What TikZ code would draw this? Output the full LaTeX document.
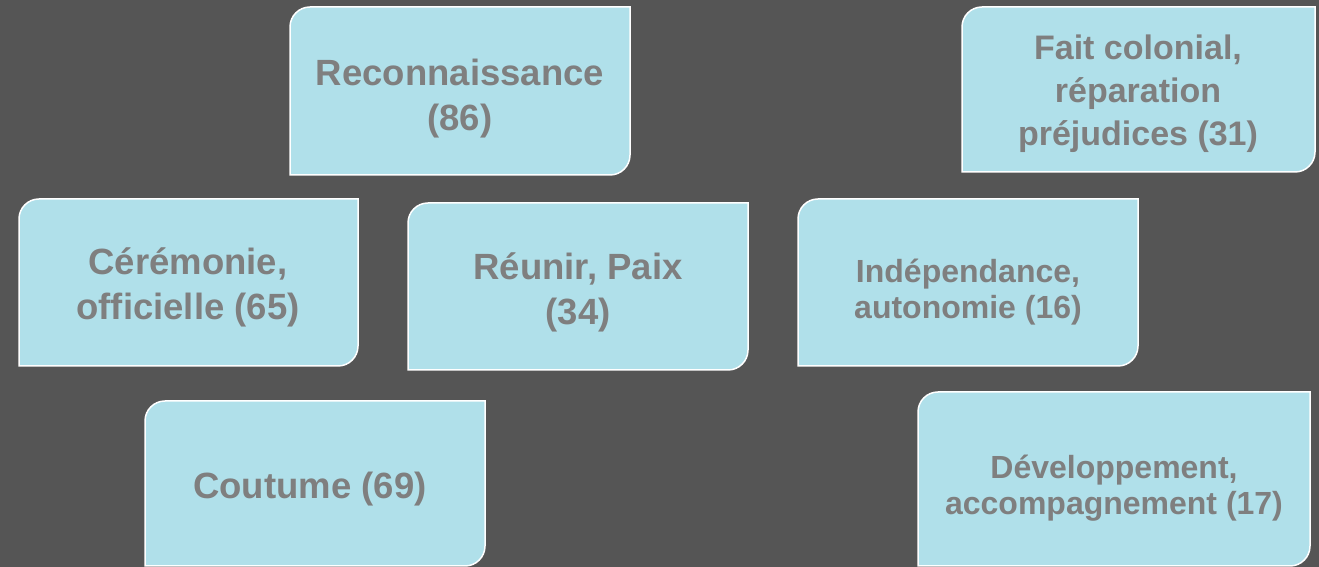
\documentclass[tikz,border=0pt]{standalone}
\usepackage{fontspec}
\setmainfont{Liberation Sans}
\usepackage{tikz}

\definecolor{bggray}{HTML}{555555}
\definecolor{boxblue}{HTML}{B0E0EA}
\definecolor{txtgray}{HTML}{7F7F7F}

% cadre arrondi en haut a gauche et en bas a droite : {gauche}{bas}{droite}{haut}
\newcommand{\topicframe}[4]{%
  \draw[boxframe] (#1,#2) -- (#1,#4-20) arc[start angle=180,end angle=90,radius=20pt]
    -- (#3,#4) -- (#3,#2+20) arc[start angle=0,end angle=-90,radius=20pt] -- cycle;}

\begin{document}
\begin{tikzpicture}[x=1pt,y=1pt,
                boxframe/.style={fill=boxblue,draw=white,line width=1.5pt},
                topic/.style={text=txtgray,align=center,font=\bfseries\fontsize{36.5}{45}\selectfont},
                midtopic/.style={topic,font=\bfseries\fontsize{34}{43}\selectfont},
                smalltopic/.style={topic,font=\bfseries\fontsize{32}{36.5}\selectfont}]
  \fill[bggray] (0,0) rectangle (1319,567);
  \useasboundingbox (0,0) rectangle (1319,567);
  % cadres
  \topicframe{290}{392}{630}{560}
  \topicframe{962}{395}{1315}{560}
  \topicframe{19}{201}{358}{368}
  \topicframe{408}{197}{748}{364}
  \topicframe{798}{201}{1138}{368}
  \topicframe{145}{1}{485}{166}
  \topicframe{918}{1}{1310}{175}
  % textes
  \node[topic]      (reco)  at (460,468)    { Reconnaissance\\(86) };
  \node[midtopic]   (fait)  at (1138,473)   { Fait colonial,\\r\'eparation\\pr\'ejudices (31) };
  \node[topic]      (cere)  at (188,279.5)  { C\'er\'emonie,\\officielle (65) };
  \node[topic]      (paix)  at (578,274.5)  { R\'eunir, Paix\\(34) };
  \node[smalltopic] (indep) at (968,275)    { Ind\'ependance,\\autonomie (16) };
  \node[topic]      (cout)  at (315,78)     { Coutume (69) };
  \node[smalltopic] (devel) at (1114,79)    { D\'eveloppement,\\accompagnement (17) };
\end{tikzpicture}
\end{document}
